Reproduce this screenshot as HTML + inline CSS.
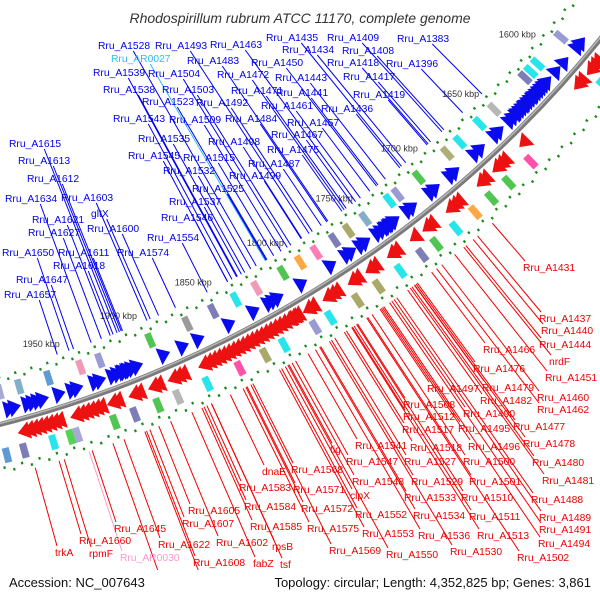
<!DOCTYPE html>
<html><head><meta charset="utf-8">
<style>
html,body{margin:0;padding:0;background:#fff;}
svg{display:block;font-family:"Liberation Sans","DejaVu Sans",sans-serif;}
</style></head>
<body>
<svg id="map" width="600" height="600" viewBox="0 0 600 600">
<text x="300" y="23" text-anchor="middle" font-style="italic" font-size="14" fill="#333">Rhodospirillum rubrum ATCC 11170, complete genome</text>
<g id="rings"></g>
<g id="lines"></g>
<g id="labels" font-size="10.3"></g>
<rect x="0" y="570" width="600" height="30" fill="#fff"/>
<text x="9" y="587" font-size="13" fill="#111">Accession: NC_007643</text>
<text x="591" y="587" font-size="13" fill="#111" text-anchor="end">Topology: circular; Length: 4,352,825 bp; Genes: 3,861</text>
</svg>
<script>
// ---- data ----
const tickKbp = [1600,1650,1700,1750,1800,1850,1900,1950];
const blueGenes = [1575,1578,1590,1597,1605,1607,1609,1611,1613,1615,1616,1618,1620,1622,1623,1625,1627,1629,1630,1633,1636,1645,1648,1660,1664,1680,1683,1695,1698,1712,1715,1725,1727,1728,1730,1731,1734,1737,1746,1749,1756,1759,1770,1790,1806,1809,1812,1822,1838,1858,1868,1880,1897,1900,1902,1903,1905,1906,1909,1912,1920,1923,1934,1937,1945,1955,1958,1961,1964,1972,1975,1985,1988];
const redGenes = [1578,1581,1584,1592,1595,1640,1655,1658,1661,1670,1673,1690,1693,1696,1710,1713,1722,1735,1738,1750,1753,1762,1765,1776,1779,1782,1792,1795,1802,1804,1805,1807,1808,1811,1814,1817,1820,1823,1826,1829,1832,1835,1838,1841,1844,1847,1850,1853,1856,1859,1862,1875,1878,1881,1890,1893,1902,1905,1915,1918,1925,1928,1931,1934,1937,1940,1950,1953,1956,1959,1962,1965,1968,1971];
const cogBlue = [1582,1603,1609,1614,1640,1652,1668,1678,1700,1716,1722,1740,1752,1762,1775,1786,1798,1816,1830,1845,1862,1886,1918,1930,1950,1968,1980];
const cogBlueCol = ["#8888cc","#00e0e8","#00e0e8","#6666aa","#aaaaaa","#00e0e8","#00e0e8","#a0a060","#33bb33","#8888cc","#00e0e8","#6fa0c0","#9a9a50","#6666aa","#ff66aa","#ff9922","#33bb33","#ee88aa","#00e0e8","#6666aa","#888888","#33bb33","#8888cc","#ee88aa","#4488cc","#6fa0c0","#9999cc"];
const cogRed = [1587,1646,1663,1676,1688,1702,1716,1726,1741,1756,1770,1788,1798,1818,1830,1846,1866,1884,1896,1910,1922,1944,1948,1958,1975,1985];
const cogRedCol = ["#00e0e8","#ff3399","#33bb33","#33bb33","#ff9922","#00e0e8","#33bb33","#6666aa","#00e0e8","#9a9a50","#9a9a50","#00e0e8","#8888cc","#00e0e8","#9a9a50","#ff3399","#00e0e8","#aaaaaa","#33bb33","#6666aa","#33bb33","#9999cc","#33cc33","#00e0e8","#6666aa","#4488cc"];
const blueNames = ["Rru_A1528","Rru_A1493","Rru_A1463","Rru_A1435","Rru_A1434","Rru_AR0027","Rru_A1483","Rru_A1450","Rru_A1539","Rru_A1504","Rru_A1472","Rru_A1443","Rru_A1538","Rru_A1503","Rru_A1471","Rru_A1441","Rru_A1523","Rru_A1492","Rru_A1461","Rru_A1436","Rru_A1543","Rru_A1509","Rru_A1484","Rru_A1457","Rru_A1467","Rru_A1535","Rru_A1498","Rru_A1475","Rru_A1545","Rru_A1515","Rru_A1487","Rru_A1532","Rru_A1499","Rru_A1525","Rru_A1537","Rru_A1546","Rru_A1554","Rru_A1574","Rru_A1615","Rru_A1613","Rru_A1612","Rru_A1634","Rru_A1603","gltX","Rru_A1621","Rru_A1600","Rru_A1627","Rru_A1650","Rru_A1611","Rru_A1618","Rru_A1647","Rru_A1657","Rru_A1409","Rru_A1408","Rru_A1418","Rru_A1417","Rru_A1419","Rru_A1383","Rru_A1396"];
const blueX = [98,155,210,266,282,111,187,251,93,148,217,275,103,162,231,276,142,196,261,321,113,169,225,287,271,138,208,267,128,183,248,163,229,192,169,161,147,117,9,18,27,5,61,91,32,87,28,2,58,53,16,4,327,342,327,343,353,397,386];
const blueY = [45,45,44,37,49,58,60,62,72,73,74,77,89,89,90,92,101,102,105,108,118,119,118,122,134,138,141,149,155,157,163,170,175,188,201,217,237,252,143,160,178,198,197,213,219,228,232,252,252,265,279,294,37,50,62,76,94,38,63];
const redNames = ["Rru_A1431","Rru_A1437","Rru_A1440","Rru_A1444","Rru_A1466","nrdF","Rru_A1476","Rru_A1451","Rru_A1497","Rru_A1479","Rru_A1460","Rru_A1482","Rru_A1508","Rru_A1462","Rru_A1490","Rru_A1512","Rru_A1477","Rru_A1517","Rru_A1495","Rru_A1541","Rru_A1518","Rru_A1496","Rru_A1478","tig","Rru_A1547","Rru_A1527","Rru_A1500","Rru_A1480","Rru_A1548","Rru_A1529","Rru_A1501","Rru_A1481","clpX","Rru_A1533","Rru_A1510","Rru_A1488","Rru_A1552","Rru_A1534","Rru_A1511","Rru_A1489","Rru_A1553","Rru_A1536","Rru_A1513","Rru_A1491","Rru_A1494","Rru_A1569","Rru_A1550","Rru_A1530","Rru_A1502","trkA","rpmF","Rru_A1660","Rru_A1645","Rru_AR0030","Rru_A1622","Rru_A1631","Rru_A1605","Rru_A1607","Rru_A1608","Rru_A1609","Rru_A1602","dnaE","Rru_A1583","Rru_A1584","Rru_A1585","rpsB","fabZ","tsf","Rru_A1568","Rru_A1571","Rru_A1572","Rru_A1575"];
const redX = [523,539,541,539,483,549,473,545,427,482,537,480,403,537,463,403,513,402,458,355,410,468,523,330,346,404,463,532,352,411,469,542,350,404,461,531,355,413,469,539,362,418,477,539,538,329,386,450,517,55,89,79,114,120,158,156,188,182,193,202,216,262,239,244,250,272,253,280,291,293,301,307];
const redY = [267,318,330,344,349,361,368,377,388,387,397,400,404,409,413,416,426,429,428,445,447,446,443,449,461,461,461,462,481,481,481,480,495,497,497,499,514,515,516,517,533,535,535,529,543,550,554,551,557,552,553,540,528,557,544,577,510,523,562,591,542,471,487,506,526,546,563,564,469,489,508,528];

// ---- geometry ----
const CX = -282, CY = -675;
const NS = "http://www.w3.org/2000/svg";
function ang(k){ return (41.6 + (k - 1600) * 0.088) * Math.PI / 180; }
function P(k, r){ const a = ang(k); return [CX + r*Math.cos(a), CY + r*Math.sin(a)]; }
function mk(tag, attrs, parent){ const e = document.createElementNS(NS, tag); for (const k in attrs) e.setAttribute(k, attrs[k]); parent.appendChild(e); return e; }
function pt(p){ return p[0].toFixed(1)+","+p[1].toFixed(1); }
const rings = document.getElementById("rings");
const lines = document.getElementById("lines");
const labels = document.getElementById("labels");

// tick dots
for (let k = 1560; k <= 2000; k += 5) {
  const off = (k % 10 === 0) ? 0 : 4;
  [1089 + off, 1178 + off].forEach(r => {
    const a = P(k, r - 1.3), b = P(k, r + 1.3);
    const d = mk("line", {x1:a[0],y1:a[1],x2:b[0],y2:b[1],stroke:"#1a8c1a","stroke-width":2.2}, rings);
    
    
  });
}
// tick labels
tickKbp.forEach(k => {
  const p = P(k, 1069);
  const t = mk("text", {x:p[0], y:p[1]+3, "text-anchor":"middle", "font-size":"9", fill:"#333"}, rings);
  t.textContent = k + " kbp";
  
  
});
// backbone
(function(){
  const a = P(1555, 1135), b = P(2010, 1135);
  const d = "M"+pt(a)+" A1135,1135 0 0,1 "+pt(b);
  const s1 = mk("path", {d:d, fill:"none", stroke:"#7a7a7a", "stroke-width":5}, rings);
  
  
  const a2 = P(1555, 1134), b2 = P(2010, 1134);
  const s2 = mk("path", {d:"M"+pt(a2)+" A1134,1134 0 0,1 "+pt(b2), fill:"none", stroke:"#b8b8b8", "stroke-width":1.5}, rings);
  
  
})();
// cog boxes
function box(k, r1, r2, col){
  const pts = [P(k,r1),P(k+4,r1),P(k+4,r2),P(k,r2)].map(pt).join(" ");
  return mk("polygon", {points:pts, fill:col, opacity:0.85}, rings);
}
cogBlue.forEach((k,i) => {
  const e = box(k, 1096, 1111, cogBlueCol[i]);
  
  
});
cogRed.forEach((k,i) => {
  const e = box(k, 1159, 1174, cogRedCol[i]);
  
  
});
// genes
const L = 7;
blueGenes.forEach(k => {
  const pts = [P(k+L,1113),P(k+L,1131),P(k,1122)].map(pt).join(" ");
  const e = mk("polygon", {points:pts, fill:"#0a0aee"}, rings);
  
  
});
redGenes.forEach(k => {
  const pts = [P(k,1139),P(k,1157),P(k+L,1148)].map(pt).join(" ");
  const e = mk("polygon", {points:pts, fill:"#ee1111"}, rings);
  
  
});
// labels + connector lines
function radialEnd(x, y, r){ const dx = x-CX, dy = y-CY, d = Math.hypot(dx,dy); return [CX+dx/d*r, CY+dy/d*r]; }
blueNames.forEach((n,i) => {
  const col = n === "Rru_AR0027" ? "#33bbee" : "#0000ee";
  const w = n.length * 5.6;
  const sx = blueX[i] + w*0.7, sy = blueY[i] + 6;
  const e = radialEnd(sx, sy, 1084);
  const ln = mk("line", {x1:sx, y1:sy, x2:e[0], y2:e[1], stroke:col, "stroke-width":1}, lines);
  
  
  const t = mk("text", {x:blueX[i], y:blueY[i]+4, fill:col}, labels);
  t.textContent = n;
  
  
});
redNames.forEach((n,i) => {
  const col = n === "Rru_AR0030" ? "#ff99cc" : "#ee0000";
  const sx = redX[i] + 2, sy = redY[i] - 6;
  const e = radialEnd(sx, sy, 1186);
  const ln = mk("line", {x1:sx, y1:sy, x2:e[0], y2:e[1], stroke:col, "stroke-width":1}, lines);
  
  
  const t = mk("text", {x:redX[i], y:redY[i]+4, fill:col}, labels);
  t.textContent = n;
  
  
});
</script>
</body></html>
